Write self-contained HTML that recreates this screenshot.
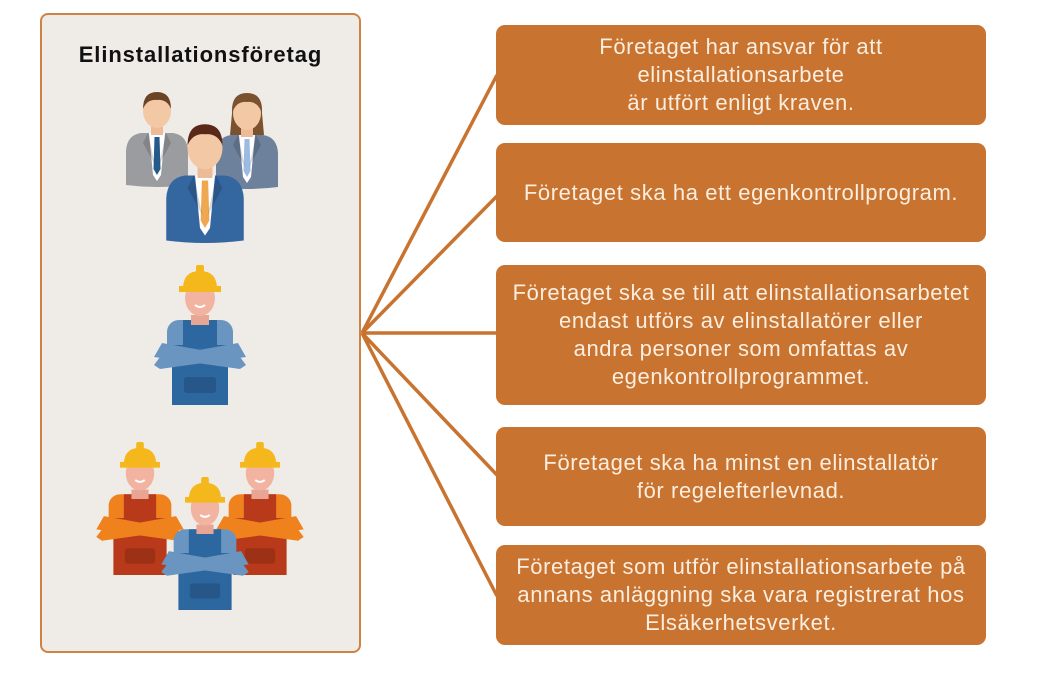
<!DOCTYPE html>
<html><head><meta charset="utf-8"><style>
body{margin:0;width:1043px;height:692px;background:#fff;position:relative;overflow:hidden;font-family:"Liberation Sans",sans-serif}
.panel{position:absolute;left:40px;top:13px;width:317px;height:636px;border:2px solid #cf8246;border-radius:8px;background:#efece7}
.title{position:absolute;left:40px;top:42px;width:321px;text-align:center;font-weight:bold;font-size:22px;letter-spacing:0.9px;color:#111}
.box{position:absolute;left:496px;width:490px;background:#c8732f;border-radius:9px;color:#fbeee0;font-size:22px;letter-spacing:0.6px;line-height:28px;text-align:center;display:flex;align-items:center;justify-content:center}
svg{position:absolute;left:0;top:0}
</style></head><body>
<div class="panel"></div>
<div class="title">Elinstallationsföretag</div>
<svg width="1043" height="692">
<defs>
<g id="w">
 <rect x="-33" y="55" width="66" height="40" rx="12" fill="var(--s)"/>
 <rect x="-28" y="80" width="56" height="60" fill="var(--o)"/>
 <rect x="-17" y="55" width="34" height="40" fill="var(--o)"/>
 <rect x="-9" y="50" width="18" height="10" fill="#e8a593"/>
 <path d="M-46 92 L-38 78 L40 92 L46 100 L40 104 Z" fill="var(--s)"/>
 <path d="M46 92 L38 78 L-40 92 L-46 100 L-40 104 Z" fill="var(--s)"/>
 <rect x="-16" y="112" width="32" height="16" rx="3" fill="rgba(0,0,0,0.15)"/>
 <ellipse cx="0" cy="33" rx="15" ry="18" fill="#f2b3a0"/>
 <path d="M-17 24 Q-17 6 0 6 Q17 6 17 24 Z" fill="#f4b71c"/>
 <rect x="-21" y="21" width="42" height="6" fill="#f4b71c"/>
 <rect x="-4" y="0" width="8" height="8" rx="2" fill="#f4b71c"/>
 <path d="M-5 40 Q0 44 5 40" stroke="#fff" stroke-width="2" fill="none"/>
</g>
<g id="m">
 <path d="M-31 90 L-31 56 Q-30 40 -16 38 L16 38 Q30 40 31 56 L31 90 Q0 94 -31 90 Z" fill="var(--s)"/>
 <path d="M-8 38 L8 38 L4 80 L0 86 L-4 80 Z" fill="#fff"/>
 <path d="M-2.5 42 L2.5 42 L3.5 74 L0 80 L-3.5 74 Z" fill="var(--t)"/>
 <path d="M-9 38 L-2 70 L-14 48 Z M9 38 L2 70 L14 48 Z" fill="rgba(0,0,0,0.15)"/>
 <rect x="-6" y="28" width="12" height="12" fill="#edbb98"/>
 <ellipse cx="0" cy="16" rx="14" ry="17" fill="#f3c8a5"/>
 <path d="M-14 14 Q-14 -3 0 -3 Q14 -3 14 14 Q10 4 0 5 Q-10 4 -14 14 Z" fill="var(--h)"/>
</g>
</defs>
<g transform="translate(157,95)" style="--s:#9a9c9f;--t:#255a8a;--h:#6b4428"><use href="#m"/></g>
<g transform="translate(247,97)" style="--s:#6d819c;--t:#9cbbe0;--h:#7a5230"><path d="M-15 16 Q-16 -4 0 -4 Q16 -4 15 16 L17 38 L-17 38 Z" fill="#7a5230"/><use href="#m"/></g>
<g transform="translate(205,128) scale(1.25)" style="--s:#3466a0;--t:#f0a850;--h:#5a2818"><use href="#m"/></g>
<g transform="translate(200,265)" style="--s:#6a95c0;--o:#2d67a0"><use href="#w"/></g>
<g transform="translate(140,442) scale(0.95)" style="--s:#f0821e;--o:#b83a1a"><use href="#w"/></g>
<g transform="translate(260,442) scale(0.95)" style="--s:#f0821e;--o:#b83a1a"><use href="#w"/></g>
<g transform="translate(205,477) scale(0.95)" style="--s:#6a95c0;--o:#2d67a0"><use href="#w"/></g>
<g stroke="#c8732f" stroke-width="3.5" fill="none">
<line x1="362" y1="333" x2="497" y2="75"/>
<line x1="362" y1="333" x2="497" y2="196"/>
<line x1="362" y1="333" x2="497" y2="333"/>
<line x1="362" y1="333" x2="497" y2="475"/>
<line x1="362" y1="333" x2="497" y2="596"/>
</g>
</svg>
<div class="box" style="top:25px;height:100px">Företaget har ansvar för att<br>elinstallationsarbete<br>är utfört enligt kraven.</div>
<div class="box" style="top:143px;height:99px">Företaget ska ha ett egenkontrollprogram.</div>
<div class="box" style="top:265px;height:140px">Företaget ska se till att elinstallationsarbetet<br>endast utförs av elinstallatörer eller<br>andra personer som omfattas av<br>egenkontrollprogrammet.</div>
<div class="box" style="top:427px;height:99px">Företaget ska ha minst en elinstallatör<br>för regelefterlevnad.</div>
<div class="box" style="top:545px;height:100px">Företaget som utför elinstallationsarbete på<br>annans anläggning ska vara registrerat hos<br>Elsäkerhetsverket.</div>
</body></html>
